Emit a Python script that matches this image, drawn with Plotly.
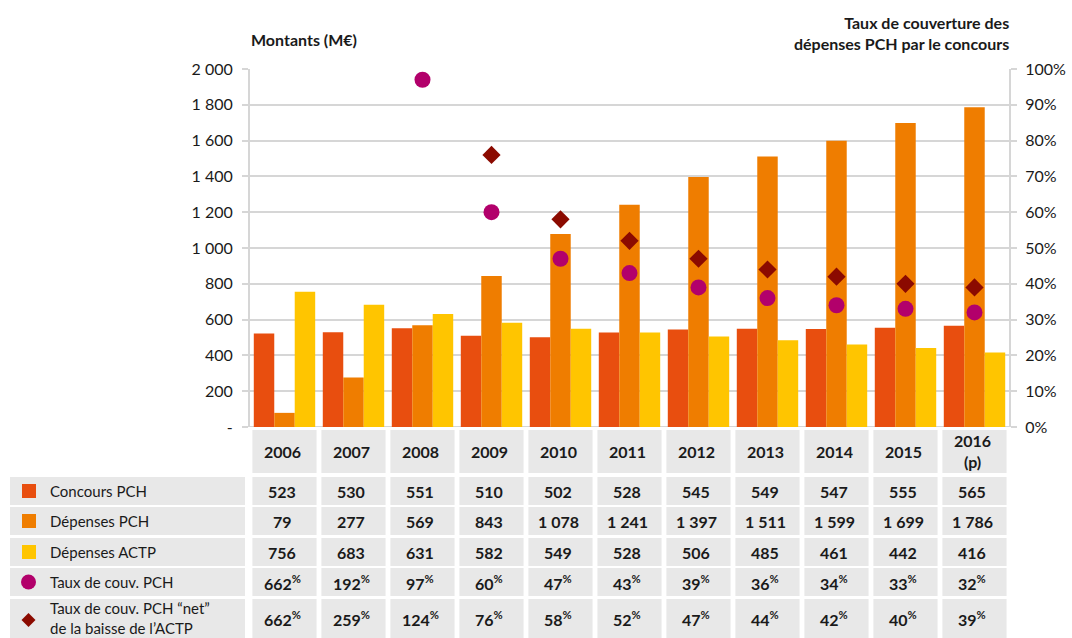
import plotly.graph_objects as go

# ---------------- data ----------------
years = ["2006", "2007", "2008", "2009", "2010", "2011", "2012", "2013", "2014", "2015", "2016 (p)"]
year_headers = ["2006", "2007", "2008", "2009", "2010", "2011", "2012", "2013", "2014", "2015", "2016<br>(p)"]
concours_pch = [523, 530, 551, 510, 502, 528, 545, 549, 547, 555, 565]
depenses_pch = [79, 277, 569, 843, 1078, 1241, 1397, 1511, 1599, 1699, 1786]
depenses_actp = [756, 683, 631, 582, 549, 528, 506, 485, 461, 442, 416]
taux_couv_pch = [662, 192, 97, 60, 47, 43, 39, 36, 34, 33, 32]          # %
taux_couv_net = [662, 259, 124, 76, 58, 52, 47, 44, 42, 40, 39]         # %
left_tickvals = [0, 200, 400, 600, 800, 1000, 1200, 1400, 1600, 1800, 2000]
left_ticktext = ["-", "200", "400", "600", "800", "1 000", "1 200", "1 400", "1 600", "1 800", "2 000"]
right_tickvals = [0, 0.1, 0.2, 0.3, 0.4, 0.5, 0.6, 0.7, 0.8, 0.9, 1.0]
right_ticktext = ["0%", "10%", "20%", "30%", "40%", "50%", "60%", "70%", "80%", "90%", "100%"]

C_CONC = "#E84E0F"
C_DEP = "#EF7D00"
C_ACTP = "#FFC500"
C_TAUX = "#B2006B"
C_NET = "#8B0A00"
TXT = "#1a1a1a"
CELL = "#E8E8E8"
GRID = "#D6D6D6"
FONT = "Lato"

W, H = 1072, 638


def py(p):
    return 1 - p / H


def px(p):
    return p / W


fig = go.Figure()
xs = list(range(len(years)))
fig.add_trace(go.Bar(x=xs, y=concours_pch, name="Concours PCH", marker_color=C_CONC, marker_line_width=0))
fig.add_trace(go.Bar(x=xs, y=depenses_pch, name="Dépenses PCH", marker_color=C_DEP, marker_line_width=0))
fig.add_trace(go.Bar(x=xs, y=depenses_actp, name="Dépenses ACTP", marker_color=C_ACTP, marker_line_width=0))
fig.add_trace(go.Scatter(x=xs, y=[v / 100 for v in taux_couv_net], yaxis="y2", mode="markers",
                         marker=dict(symbol="diamond", size=14, color=C_NET), cliponaxis=True,
                         name="Taux net"))
fig.add_trace(go.Scatter(x=xs, y=[v / 100 for v in taux_couv_pch], yaxis="y2", mode="markers",
                         marker=dict(symbol="circle", size=16, color=C_TAUX), cliponaxis=True,
                         name="Taux"))

x_dom = [px(250), px(1009)]
y_dom = [py(427), py(69)]

fig.update_layout(
    width=W, height=H,
    margin=dict(l=0, r=0, t=0, b=0, pad=0, autoexpand=False),
    paper_bgcolor="white", plot_bgcolor="white",
    showlegend=False,
    barmode="group", bargap=0.11, bargroupgap=0,
    font=dict(family=FONT, size=16, color=TXT),
    xaxis=dict(domain=x_dom, range=[-0.5, len(years) - 0.5], showticklabels=False, ticks="",
               showgrid=False, zeroline=False, showline=False, fixedrange=True, automargin=False),
    yaxis=dict(domain=y_dom, range=[0, 2000], tickvals=left_tickvals, ticktext=left_ticktext,
               showgrid=True, gridcolor=GRID, gridwidth=2, zeroline=False,
               showline=True, linecolor=GRID, linewidth=2, automargin=False,
               ticks="outside", ticklen=6, tickcolor=GRID, tickwidth=2,
               ticklabelstandoff=6, tickfont=dict(size=16, family=FONT, color=TXT)),
    yaxis2=dict(overlaying="y", side="right", anchor="x", range=[0, 1],
                tickvals=right_tickvals, ticktext=right_ticktext, automargin=False,
                showgrid=False, zeroline=False, showline=True, linecolor=GRID, linewidth=2,
                ticks="outside", ticklen=6, tickcolor=GRID, tickwidth=2,
                ticklabelstandoff=5, tickfont=dict(size=16, family=FONT, color=TXT)),
)

# bottom axis line (0)
shapes = [dict(type="line", xref="paper", yref="y", x0=x_dom[0], x1=x_dom[1], y0=0, y1=0,
               line=dict(color=GRID, width=2), layer="below")]

annotations = []
# titles
annotations.append(dict(text="<b>Montants (M€)</b>", xref="paper", yref="paper", x=px(249), y=py(40),
                        xanchor="left", yanchor="middle", showarrow=False, font=dict(size=16)))
annotations.append(dict(text="<b>Taux de couverture des<br>dépenses PCH par le concours</b>",
                        xref="paper", yref="paper", x=px(1011), y=py(33), xanchor="right", yanchor="middle",
                        align="right", showarrow=False, font=dict(size=16)))

# table geometry (pixel rows)
rows = [(430, 473), (477, 505), (507, 535), (538, 566), (568, 596), (599, 645)]
half = 0.465
for i in xs:
    for (r0, r1) in rows:
        shapes.append(dict(type="rect", xref="x", yref="paper", x0=i - half, x1=i + half,
                           y0=py(r1), y1=py(r0), fillcolor=CELL, line_width=0, layer="below"))
for (r0, r1) in rows[1:]:
    shapes.append(dict(type="rect", xref="paper", yref="paper", x0=px(10), x1=px(245),
                       y0=py(r1), y1=py(r0), fillcolor=CELL, line_width=0, layer="below"))


def fmt(v):
    return f"{v:,}".replace(",", " ")


row_values = [
    [fmt(v) for v in concours_pch],
    [fmt(v) for v in depenses_pch],
    [fmt(v) for v in depenses_actp],
    [f"{v}<sup>%</sup>" for v in taux_couv_pch],
    [f"{v}<sup>%</sup>" for v in taux_couv_net],
]
row_text_y = [451, 491, 521, 552, 582, 618]
for i in xs:
    annotations.append(dict(text=f"<b>{year_headers[i]}</b>", xref="x", yref="paper", x=i - 0.03,
                            y=py(row_text_y[0]), xanchor="center", yanchor="middle",
                            showarrow=False, font=dict(size=16), align="center"))
    for k, vals in enumerate(row_values):
        annotations.append(dict(text=f"<b>{vals[i]}</b>", xref="x", yref="paper", x=i - 0.03,
                                y=py(row_text_y[k + 1]), xanchor="center", yanchor="middle",
                                showarrow=False, font=dict(size=16)))

labels = ["Concours PCH", "Dépenses PCH", "Dépenses ACTP", "Taux de couv. PCH",
          "Taux de couv. PCH “net”<br>de la baisse de l’ACTP"]
for k, lab in enumerate(labels):
    annotations.append(dict(text=lab, xref="paper", yref="paper", x=px(48), y=py(row_text_y[k + 1]),
                            xanchor="left", yanchor="middle", align="left", showarrow=False,
                            font=dict(size=15)))

# legend keys
key_colors = [C_CONC, C_DEP, C_ACTP]
for k in range(3):
    cy = row_text_y[k + 1]
    shapes.append(dict(type="rect", xref="paper", yref="paper", x0=px(22), x1=px(36),
                       y0=py(cy + 7), y1=py(cy - 7), fillcolor=key_colors[k], line_width=0))
cy = row_text_y[4]
shapes.append(dict(type="circle", xref="paper", yref="paper", x0=px(21), x1=px(36),
                   y0=py(cy + 7.5), y1=py(cy - 7.5), fillcolor=C_TAUX, line_width=0))
cy = 620
shapes.append(dict(type="path", xref="paper", yref="paper",
                   path=f"M {px(28.5)},{py(cy-7)} L {px(35.5)},{py(cy)} L {px(28.5)},{py(cy+7)} L {px(21.5)},{py(cy)} Z",
                   fillcolor=C_NET, line_width=0))

fig.update_layout(annotations=annotations, shapes=shapes)

fig.write_html("out.html")
